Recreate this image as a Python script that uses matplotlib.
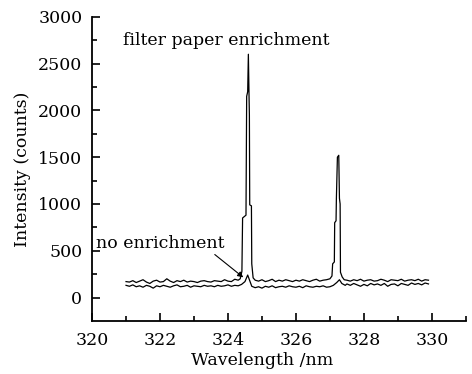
import matplotlib.pyplot as plt

# filter paper enrichment spectrum (upper trace with the two Cu peaks)
wl_filter = [321.0, 321.1, 321.2, 321.3, 321.4, 321.5, 321.6, 321.7, 321.8, 321.9,
             322.0, 322.1, 322.2, 322.3, 322.4, 322.5, 322.6, 322.7, 322.8, 322.9,
             323.0, 323.1, 323.2, 323.3, 323.4, 323.5, 323.6, 323.7, 323.8, 323.9,
             324.0, 324.1, 324.2, 324.3, 324.36, 324.41, 324.43, 324.53, 324.55, 324.58,
             324.60, 324.62, 324.63, 324.64, 324.69, 324.70, 324.74, 324.8, 324.9,
             325.0, 325.1, 325.2, 325.3, 325.4, 325.5, 325.6, 325.7, 325.8, 325.9,
             326.0, 326.1, 326.2, 326.3, 326.4, 326.5, 326.6, 326.7, 326.8, 326.9,
             327.0, 327.06, 327.08, 327.13, 327.14, 327.18, 327.19, 327.22, 327.26, 327.28,
             327.30, 327.31, 327.36, 327.42, 327.5, 327.6, 327.7, 327.8, 327.9,
             328.0, 328.1, 328.2, 328.3, 328.4, 328.5, 328.6, 328.7, 328.8, 328.9,
             329.0, 329.1, 329.2, 329.3, 329.4, 329.5, 329.6, 329.7, 329.8, 329.9]
int_filter = [170, 165, 180, 160, 175, 190, 165, 150, 175, 185,
              165, 170, 200, 175, 160, 180, 170, 185, 165, 175,
              170, 160, 175, 180, 170, 165, 180, 175, 170, 190,
              175, 170, 195, 185, 200, 280, 850, 880, 2150, 2200,
              2600, 2150, 1950, 990, 980, 360, 210, 185, 175,
              190, 170, 180, 195, 170, 185, 175, 190, 180, 170,
              185, 175, 190, 180, 170, 185, 195, 175, 185, 190,
              200, 230, 360, 380, 800, 820, 1060, 1500, 1520, 1060,
              1000, 270, 220, 190, 185, 175, 190, 180, 195,
              175, 185, 190, 175, 180, 195, 185, 170, 190, 185,
              180, 195, 175, 185, 190, 180, 195, 175, 190, 185]

# no enrichment spectrum (lower trace)
wl_none = [321.0, 321.1, 321.2, 321.3, 321.4, 321.5, 321.6, 321.7, 321.8, 321.9,
           322.0, 322.1, 322.2, 322.3, 322.4, 322.5, 322.6, 322.7, 322.8, 322.9,
           323.0, 323.1, 323.2, 323.3, 323.4, 323.5, 323.6, 323.7, 323.8, 323.9,
           324.0, 324.1, 324.2, 324.3, 324.4, 324.5, 324.58, 324.65, 324.7, 324.8, 324.9,
           325.0, 325.1, 325.2, 325.3, 325.4, 325.5, 325.6, 325.7, 325.8, 325.9,
           326.0, 326.1, 326.2, 326.3, 326.4, 326.5, 326.6, 326.7, 326.8, 326.9,
           327.0, 327.1, 327.2, 327.28, 327.35, 327.45, 327.5, 327.6, 327.7, 327.8, 327.9,
           328.0, 328.1, 328.2, 328.3, 328.4, 328.5, 328.6, 328.7, 328.8, 328.9,
           329.0, 329.1, 329.2, 329.3, 329.4, 329.5, 329.6, 329.7, 329.8, 329.9]
int_none = [130, 120, 135, 115, 125, 110, 130, 120, 100, 125,
            115, 130, 120, 110, 125, 135, 115, 120, 130, 110,
            125, 120, 115, 130, 120, 125, 115, 130, 120, 125,
            135, 120, 130, 125, 140, 170, 240, 170, 120, 105, 115,
            100, 120, 110, 125, 105, 115, 120, 110, 125, 115,
            110, 120, 105, 125, 115, 110, 120, 115, 125, 110,
            115, 130, 160, 190, 150, 130, 145, 130, 150, 135, 120,
            140, 125, 150, 135, 145, 130, 150, 120, 140, 145,
            125, 150, 140, 130, 155, 140, 150, 135, 155, 145]

xticks = [320, 322, 324, 326, 328, 330]
yticks = [0, 500, 1000, 1500, 2000, 2500, 3000]

plt.rcParams['font.family'] = 'DejaVu Serif'
plt.rcParams['font.size'] = 12.5

fig = plt.figure(figsize=(4.72, 3.74), dpi=100)
ax = fig.add_axes([0.195, 0.142, 0.792, 0.813])

ax.plot(wl_filter, int_filter, color='black', lw=0.9)
ax.plot(wl_none, int_none, color='black', lw=0.9)

ax.text(320.92, 2750, 'filter paper enrichment', va='center', ha='left')
ax.annotate('no enrichment', xy=(324.45, 215), xytext=(320.12, 580),
            va='center', ha='left',
            arrowprops=dict(arrowstyle='-|>', color='black', lw=0.8,
                            shrinkA=0, shrinkB=0, mutation_scale=8,
                            relpos=(0.88, 0.1)))

ax.set_xlim(320, 331)
ax.set_ylim(-250, 3000)
ax.set_xticks(xticks)
ax.set_yticks(yticks)
ax.set_xticks([321, 323, 325, 327, 329, 331], minor=True)
ax.set_yticks([250, 750, 1250, 1750, 2250, 2750], minor=True)
ax.tick_params(which='both', direction='in', width=1.2)
ax.tick_params(which='major', length=6)
ax.tick_params(which='minor', length=3.5)
ax.tick_params(axis='x', pad=8)
ax.tick_params(axis='y', pad=7)

for side in ['top', 'right']:
    ax.spines[side].set_visible(False)
for side in ['left', 'bottom']:
    ax.spines[side].set_linewidth(1.3)

ax.set_xlabel('Wavelength /nm', labelpad=2, x=5 / 11)
ax.set_ylabel('Intensity (counts)', labelpad=5)

plt.savefig('out.png', dpi=100)
